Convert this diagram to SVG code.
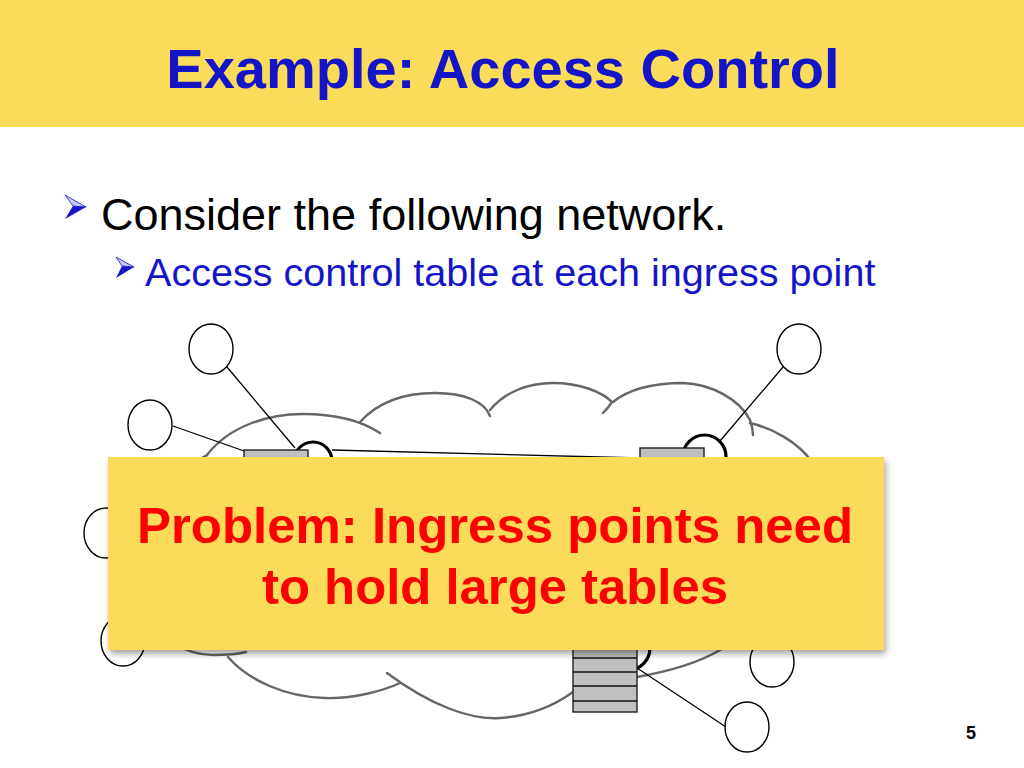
<svg xmlns="http://www.w3.org/2000/svg" width="1024" height="768" viewBox="0 0 1024 768">
<style>
.band{fill:#fadc5a}
.title{font-family:"Liberation Sans",Arial,sans-serif;font-weight:bold;font-size:56px;fill:#1515c8}
.b1{font-family:"Liberation Sans",Arial,sans-serif;font-size:45px;fill:#000}
.b2{font-family:"Liberation Sans",Arial,sans-serif;font-size:39.6px;fill:#1515c8}
.cloud{fill:none;stroke:#666;stroke-width:2.4;stroke-linecap:round}
.link{stroke:#000;stroke-width:1.3;fill:none}
.host{fill:#fff;stroke:#000;stroke-width:1.4}
.rarc{fill:#fff;stroke:#000;stroke-width:3.2}
.rbox{fill:#c0c0c0;stroke:#222;stroke-width:1.4}
.rline{stroke:#111;stroke-width:1.4}
.call{font-family:"Liberation Sans Narrow","Liberation Sans",Arial,sans-serif;font-weight:bold;font-size:50px;fill:#ff0000}
.pg{font-family:"Liberation Sans",Arial,sans-serif;font-weight:bold;font-size:18px;fill:#000}
.bul{fill:#1515c8}
.bulh{fill:#c8c8f0;stroke:#1515c8;stroke-width:0.8}
</style>
<defs>
<filter id="shadow" x="-5%" y="-5%" width="112%" height="120%">
<feDropShadow dx="2" dy="4" stdDeviation="3" flood-color="#000" flood-opacity="0.35"/>
</filter>
<filter id="soft"><feGaussianBlur stdDeviation="0.5"/></filter>
</defs>
<rect width="1024" height="768" fill="#fff"/>
<rect class="band" x="0" y="0" width="1024" height="127"/>
<text class="title" x="503" y="88" text-anchor="middle">Example: Access Control</text>

<g id="bullet1">
<polygon class="bulh" points="65,195 86,207 73,206"/>
<polygon class="bul" points="73,206 86,207 65,219"/>
<text class="b1" x="101" y="230">Consider the following network.</text>
</g>
<g id="bullet2">
<polygon class="bulh" points="116,257 134,267 122,266"/>
<polygon class="bul" points="122,266 134,267 116,278"/>
<text class="b2" x="145" y="286">Access control table at each ingress point</text>
</g>

<g id="cloud" filter="url(#soft)">
<path class="cloud" d="M207,455 C230,425 270,414 303,414 C335,414 360,420 380,433"/>
<path class="cloud" d="M360,422 C378,402 405,393 435,393 C465,393 485,402 490,416"/>
<path class="cloud" d="M490,410 C505,392 528,383 553,383 C580,383 602,392 612,402 Q608,408 603,413"/>
<path class="cloud" d="M613,402 C628,390 652,383 683,383 C712,384 740,400 750,420 Q753,428 753,435"/>
<path class="cloud" d="M750,423 C772,428 798,442 812,462 C840,480 850,540 830,570 C845,610 800,640 770,625"/>
<path class="cloud" d="M770,625 C750,635 735,643 720,650 C695,665 665,672 637,677 C610,682 590,686 573,692 C555,705 530,716 500,718 C470,720 430,705 387,673"/>
<path class="cloud" d="M400,683 C385,690 355,699 325,698 C285,697 248,680 228,657"/>
<path class="cloud" d="M246,652 C235,655 225,655 213,655 C190,655 150,640 140,600 C130,570 150,545 175,530 C160,500 180,470 207,455"/>
</g>

<g id="connectors">
<line class="link" x1="227" y1="367" x2="295" y2="448"/>
<line class="link" x1="173" y1="426" x2="244" y2="451"/>
<line class="link" x1="332" y1="450" x2="640" y2="458"/>
<line class="link" x1="783" y1="367" x2="720" y2="441"/>
<line class="link" x1="637" y1="668" x2="726" y2="727"/>
</g>

<g id="r1">
<circle class="rarc" cx="313" cy="461" r="19"/>
<rect class="rbox" x="244" y="450" width="64" height="70"/>
<line class="rline" x1="244" y1="464" x2="308" y2="464"/>
<line class="rline" x1="244" y1="478" x2="308" y2="478"/>
</g>
<g id="r2">
<circle class="rarc" cx="704.5" cy="456.5" r="21.5"/>
<rect class="rbox" x="640" y="448" width="64" height="70"/>
<line class="rline" x1="640" y1="462" x2="704" y2="462"/>
<line class="rline" x1="640" y1="476" x2="704" y2="476"/>
</g>
<g id="r3">
<circle class="rarc" cx="628" cy="648" r="22"/>
<rect class="rbox" x="573" y="630" width="64" height="82"/>
<line class="rline" x1="573" y1="644" x2="637" y2="644"/>
<line class="rline" x1="573" y1="658" x2="637" y2="658"/>
<line class="rline" x1="573" y1="672" x2="637" y2="672"/>
<line class="rline" x1="573" y1="686" x2="637" y2="686"/>
<line class="rline" x1="573" y1="701" x2="637" y2="701"/>
</g>

<g id="h1"><ellipse class="host" cx="211" cy="349" rx="22" ry="25"/></g>
<g id="h2"><ellipse class="host" cx="150" cy="425" rx="22" ry="25"/></g>
<g id="h3"><ellipse class="host" cx="799" cy="349" rx="22" ry="25"/></g>
<g id="h4"><ellipse class="host" cx="106" cy="533" rx="22" ry="25"/></g>
<g id="h5"><ellipse class="host" cx="123" cy="641" rx="22" ry="25"/></g>
<g id="h6"><ellipse class="host" cx="772" cy="662" rx="22" ry="25"/></g>
<g id="h7"><ellipse class="host" cx="747" cy="727" rx="22" ry="25"/></g>

<g id="callout">
<rect class="band" x="108" y="457" width="776" height="193" filter="url(#shadow)"/>
<text class="call" x="495" y="543" text-anchor="middle" textLength="716" lengthAdjust="spacingAndGlyphs">Problem: Ingress points need</text>
<text class="call" x="495" y="604" text-anchor="middle" textLength="466" lengthAdjust="spacingAndGlyphs">to hold large tables</text>
</g>

<text class="pg" x="966" y="739">5</text>
</svg>
